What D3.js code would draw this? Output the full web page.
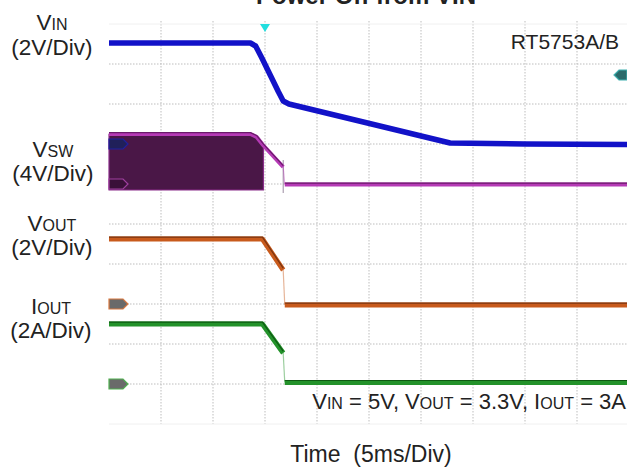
<!DOCTYPE html>
<html>
<head>
<meta charset="utf-8">
<script src="https://cdn.jsdelivr.net/npm/d3@7"></script>
<style>
  html, body { margin: 0; padding: 0; background: #ffffff; }
  svg { display: block; font-family: "Liberation Sans", Arial, sans-serif; }
</style>
</head>
<body>
<svg id="chart" width="627" height="469"></svg>
<script>
// ---------------- data ----------------
const titleText = "Power Off from VIN";
const timeLabel = "Time  (5ms/Div)";
const partLabel = "RT5753A/B";

// time axis: 10 divisions of 5 ms
const timeGrid = [0, 5, 10, 15, 20, 25, 30, 35, 40, 45, 50];
const divGrid = [0, 1, 2, 3, 4, 5, 6, 7, 8, 9, 10];

// channel settings: ground level (divisions from top) and units per division
const channelNames = ["VIN", "VSW", "VOUT", "IOUT"];
const channelGround = [3, 4, 7, 9];
const channelScale = [2, 4, 2, 2];

// VIN (V)
const vinTime = [0, 13.6, 14.1, 14.7, 15.5, 16.3, 16.75, 17.3, 32.8, 40, 50];
const vinVolt = [5.05, 5.05, 4.9, 4.3, 3.45, 2.6, 2.15, 2.0, 0.05, 0.0, -0.03];

// VSW envelope while switching (V)
const vswEnvTime = [0, 13.6, 14.2, 14.85];
const vswEnvHigh = [5.0, 5.0, 4.7, 3.85];
const vswEnvLow = [-0.6, -0.6, -0.6, -0.6];
// VSW upper trace (V)
const vswTime = [0, 13.6, 14.2, 14.85, 16.75, 16.9, 50];
const vswVolt = [5.0, 5.0, 4.7, 3.85, 1.7, -0.05, -0.05];

// VOUT (V)
const voutTime = [0, 14.75, 16.75, 16.9, 50];
const voutVolt = [3.25, 3.25, 1.7, -0.05, -0.05];

// IOUT (A)
const ioutTime = [0, 14.75, 16.75, 16.9, 50];
const ioutAmp = [3.0, 3.0, 1.55, 0.08, 0.08];

// trigger
const triggerTime = 15;
const triggerLevel = 3.45; // on VIN

// ---------------- layout ----------------
const svg = d3.select("#chart");
const x = d3.scaleLinear().domain([0, 50]).range([109, 629]);
const yDiv = d3.scaleLinear().domain([0, 10]).range([24, 424]);
const yOf = (ch, v) => yDiv(channelGround[ch] - v / channelScale[ch]);

// grid
const grid = svg.append("g");
grid.selectAll("line.v").data(timeGrid.slice(1)).join("line")
  .attr("x1", d => x(d)).attr("x2", d => x(d))
  .attr("y1", yDiv(0) - 3).attr("y2", yDiv(10))
  .attr("stroke", "#bdbdbd").attr("stroke-width", 1).attr("stroke-dasharray", "1.5,1.5");
grid.selectAll("line.h").data(divGrid.slice(1, 10)).join("line")
  .attr("x1", x(0)).attr("x2", x(50))
  .attr("y1", d => yDiv(d)).attr("y2", d => yDiv(d))
  .attr("stroke", "#bdbdbd").attr("stroke-width", 1).attr("stroke-dasharray", "1.5,1.5");
grid.selectAll("line.b").data([0, 10]).join("line")
  .attr("x1", x(0)).attr("x2", x(50))
  .attr("y1", d => yDiv(d)).attr("y2", d => yDiv(d))
  .attr("stroke", "#f0f0f0").attr("stroke-width", 1);

// helper to draw a trace split at fast edges
function drawTrace(ch, ts, vs, color, width, edge) {
  const pts = ts.map((t, i) => [x(t), yOf(ch, vs[i])]);
  let cut = -1;
  for (let i = 1; i < ts.length; i++) {
    if (ts[i] - ts[i - 1] < 0.3 && Math.abs(vs[i] - vs[i - 1]) > 1) cut = i;
  }
  const g = svg.append("g");
  const segs = cut > 0 ? [pts.slice(0, cut), pts.slice(cut)] : [pts];
  segs.forEach(s => {
    g.append("path").attr("d", d3.line().curve(d3.curveLinear)(s))
      .attr("fill", "none").attr("stroke", color).attr("stroke-width", width)
      .attr("stroke-linejoin", "round").attr("stroke-linecap", "butt");
    if (edge) {
      g.append("path").attr("d", d3.line().curve(d3.curveLinear)(s.map(p => [p[0], p[1] - width / 2 + 0.6])))
        .attr("fill", "none").attr("stroke", edge).attr("stroke-width", 1.2);
    }
  });
  if (cut > 0) {
    g.append("line")
      .attr("x1", pts[cut - 1][0]).attr("y1", pts[cut - 1][1])
      .attr("x2", pts[cut][0]).attr("y2", pts[cut][1])
      .attr("stroke", color).attr("stroke-opacity", 0.45).attr("stroke-width", 1.2);
  }
  return g;
}

// VIN
drawTrace(0, vinTime, vinVolt, "#1212c8", 5.5, null);

// VSW envelope
const env = vswEnvTime.map((t, i) => ({ t, hi: vswEnvHigh[i], lo: vswEnvLow[i] }));
svg.append("path").datum(env)
  .attr("d", d3.area().x(d => x(d.t)).y0(d => yOf(1, d.lo)).y1(d => yOf(1, d.hi)))
  .attr("fill", "#4a1747").attr("stroke", "#8a2c8a").attr("stroke-width", 1.2)
  .attr("stroke-linejoin", "round");
// VSW thin spike line at falling edge
svg.append("line")
  .attr("x1", x(vswTime[4])).attr("x2", x(vswTime[4]))
  .attr("y1", yOf(1, 2.4)).attr("y2", yOf(1, -0.9))
  .attr("stroke", "#9a8aa0").attr("stroke-width", 1);
drawTrace(1, vswTime, vswVolt, "#b53ab5", 4, "#6a1a6a");

// VOUT, IOUT
drawTrace(2, voutTime, voutVolt, "#c85a1c", 5, "#7a3410");
drawTrace(3, ioutTime, ioutAmp, "#23922a", 5, "#0e5a12");

// ground markers on the left
const markerColors = ["#2020a0", "#a040a0", "#d87840", "#50b050"];
const markerFill = ["#20205a", "#3a1038", "#6a6a6a", "#6a6a6a"];
const tag = (x0, y0) => `M${x0},${y0 - 5}H${x0 + 14}L${x0 + 19},${y0}L${x0 + 14},${y0 + 5}H${x0}Z`;
channelNames.forEach((n, i) => {
  svg.append("path").attr("d", tag(x(0), yDiv(channelGround[i])))
    .attr("fill", markerFill[i]).attr("stroke", markerColors[i]).attr("stroke-width", 1.2);
});

// trigger markers
svg.append("path")
  .attr("d", `M${x(triggerTime) - 5},${yDiv(0)}H${x(triggerTime) + 5}L${x(triggerTime)},${yDiv(0) + 8}Z`)
  .attr("fill", "#22dede");
const ty = yOf(0, triggerLevel);
svg.append("path")
  .attr("d", `M627,${ty - 5}H619L614,${ty}L619,${ty + 5}H627Z`)
  .attr("fill", "#2a6a6a").attr("stroke", "#40b0b0").attr("stroke-width", 1.2);

// ---------------- text ----------------
const fs = 22.5;
function chanLabel(main, sub, div, cx, y1, y2) {
  const t = svg.append("text").attr("x", cx).attr("y", y1).attr("text-anchor", "middle")
    .attr("font-size", fs).attr("fill", "#222");
  t.append("tspan").text(main);
  t.append("tspan").text(sub).attr("font-size", 16);
  svg.append("text").attr("x", cx).attr("y", y2).attr("text-anchor", "middle")
    .attr("font-size", fs).attr("fill", "#222").text(div);
}
chanLabel("V", "IN", "(2V/Div)", 52, 30, 55);
chanLabel("V", "SW", "(4V/Div)", 53, 157, 181);
chanLabel("V", "OUT", "(2V/Div)", 52, 231, 255);
chanLabel("I", "OUT", "(2A/Div)", 51, 314, 338);

svg.append("text").attr("x", 366).attr("y", 4).attr("text-anchor", "middle")
  .attr("font-size", 24).attr("font-weight", "bold").attr("fill", "#222").text(titleText);

svg.append("text").attr("x", 619).attr("y", 49).attr("text-anchor", "end")
  .attr("font-size", 21).attr("fill", "#222").text(partLabel);

const cond = svg.append("text").attr("x", 626).attr("y", 409).attr("text-anchor", "end")
  .attr("font-size", 22).attr("fill", "#222");
[["V", 22], ["IN", 16], [" = 5V, V", 22], ["OUT", 16], [" = 3.3V, I", 22], ["OUT", 16], [" = 3A", 22]]
  .forEach(([s, f]) => cond.append("tspan").attr("font-size", f).text(s));

svg.append("text").attr("x", 371).attr("y", 462).attr("text-anchor", "middle")
  .attr("font-size", 23).attr("fill", "#222").style("white-space", "pre").text(timeLabel);
</script>
</body>
</html>
